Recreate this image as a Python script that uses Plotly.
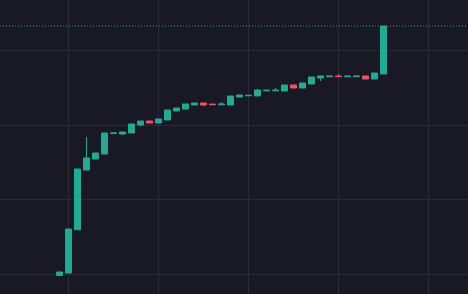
import plotly.graph_objects as go

# Candle index (time) and OHLC values
idx = list(range(37))
opens = [98.0, 101.3, 159.6, 239.9, 254.7, 261.4, 289.2, 288.3, 289.7, 300.4,
         305.8, 303.1, 307.2, 319.3, 322.0, 327.4, 330.0, 328.6, 327.6, 327.4,
         338.1, 339.8, 339.5, 346.4, 346.4, 346.2, 354.3, 350.2, 355.6, 363.7,
         365.4, 366.4, 365.4, 365.4, 366.4, 362.3, 369.1]
closes = [102.7, 160.5, 241.3, 256.1, 262.8, 289.7, 289.7, 291.0, 301.8, 305.8,
          303.1, 308.5, 320.6, 323.3, 328.8, 330.0, 327.4, 327.8, 328.6, 339.5,
          340.8, 340.3, 347.5, 347.2, 347.2, 354.3, 350.2, 357.0, 365.0, 366.4,
          366.2, 365.6, 366.2, 366.2, 362.3, 370.4, 433.6]
highs = [102.7, 160.5, 241.3, 284.3, 262.8, 289.7, 289.7, 291.0, 301.8, 305.8,
         305.8, 308.5, 320.6, 323.3, 328.8, 330.0, 330.0, 328.6, 331.4, 339.5,
         340.8, 340.3, 348.9, 347.2, 350.2, 354.3, 354.3, 357.0, 365.0, 366.4,
         366.2, 369.1, 366.2, 366.2, 366.4, 370.4, 433.6]
lows = [98.0, 101.3, 159.6, 239.9, 254.7, 261.4, 289.2, 287.0, 289.7, 299.1,
        303.1, 303.1, 307.2, 319.3, 322.0, 327.4, 326.0, 327.8, 327.6, 327.4,
        338.1, 339.8, 339.5, 346.4, 346.4, 346.2, 350.2, 350.2, 355.6, 359.6,
        365.4, 365.6, 365.4, 365.4, 362.3, 362.3, 369.1]

UP = "#22ab94"
DOWN = "#f7525f"
BG = "#181925"
GRID = "#2a2b39"

fig = go.Figure(go.Candlestick(
    x=idx, open=opens, high=highs, low=lows, close=closes,
    increasing=dict(line=dict(color=UP, width=1), fillcolor=UP),
    decreasing=dict(line=dict(color=DOWN, width=1), fillcolor=DOWN),
    whiskerwidth=0,
))

fig.add_shape(type="line", xref="paper", x0=0, x1=1, yref="y",
              y0=closes[-1], y1=closes[-1],
              line=dict(color=UP, width=1, dash="1px,2px"))

fig.update_layout(
    width=468, height=294,
    margin=dict(l=0, r=0, t=0, b=0),
    paper_bgcolor=BG, plot_bgcolor=BG,
    showlegend=False,
    boxgap=0.05,
    xaxis=dict(range=[-6.611, 45.389], rangeslider=dict(visible=False),
               showticklabels=False, tick0=1, dtick=10, showgrid=True,
               gridcolor=GRID, gridwidth=1, zeroline=False, showline=False),
    yaxis=dict(range=[73.1, 468.6], showticklabels=False, tick0=100, dtick=100,
               showgrid=True, gridcolor=GRID, gridwidth=1, zeroline=False,
               showline=False),
)

fig.write_html("out.html")
